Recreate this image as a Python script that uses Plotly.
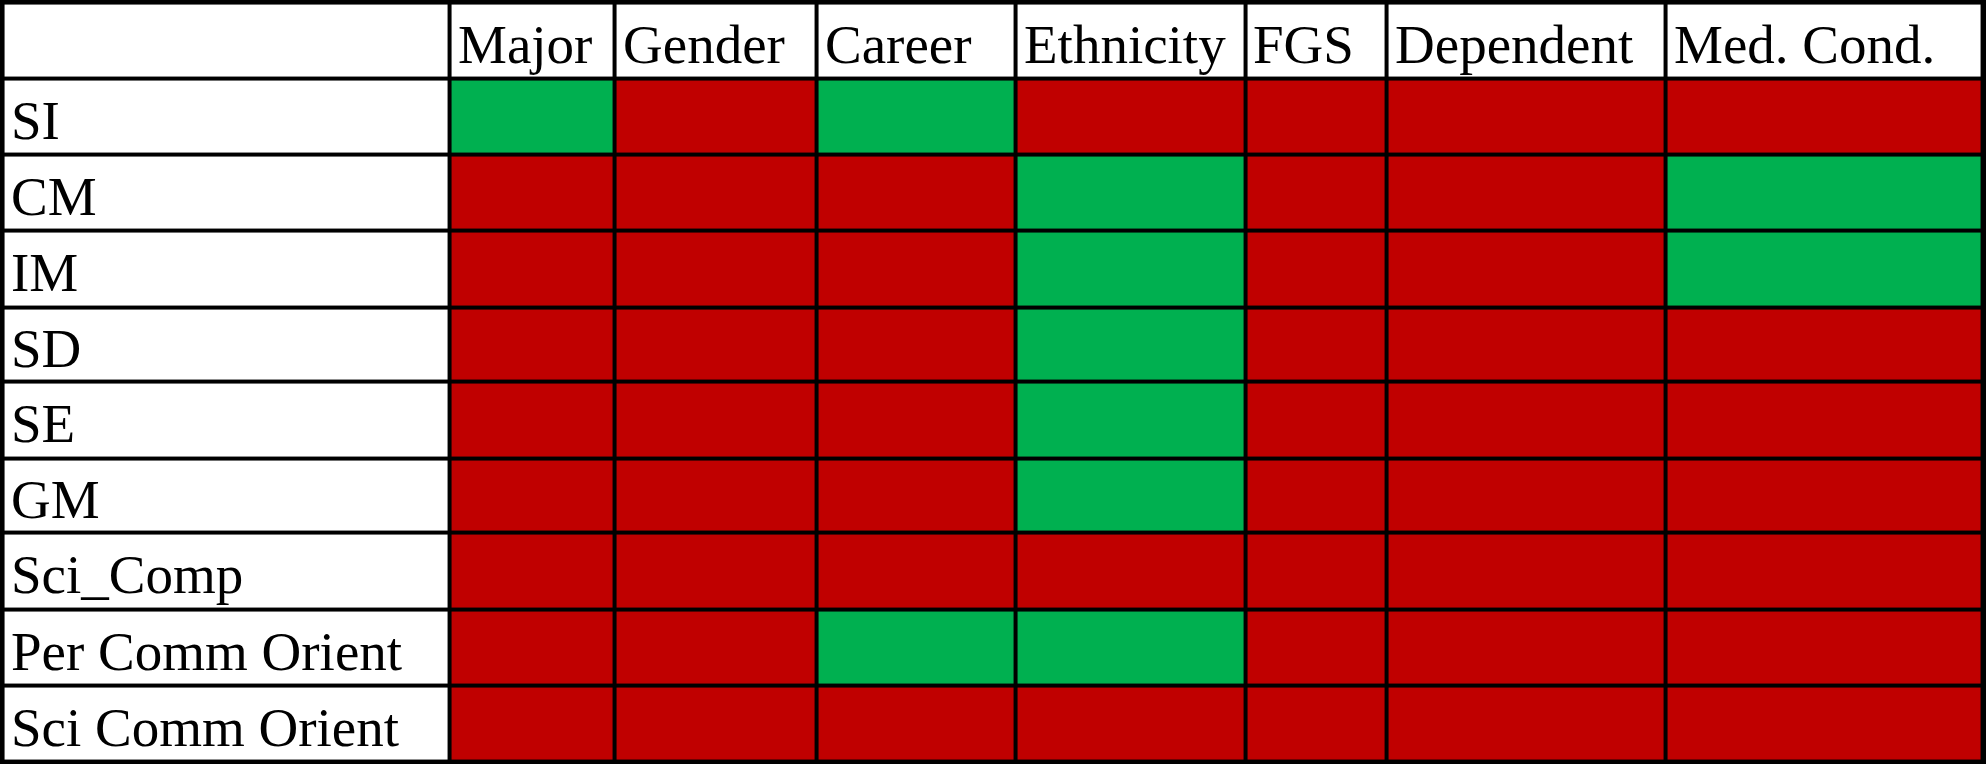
import plotly.graph_objects as go

columns = ["Major", "Gender", "Career", "Ethnicity", "FGS", "Dependent", "Med. Cond."]
rows = ["SI", "CM", "IM", "SD", "SE", "GM", "Sci_Comp", "Per Comm Orient", "Sci Comm Orient"]
# 1 = significant (green), 0 = not significant (red)
sig = [
    [1, 0, 1, 0, 0, 0, 0],
    [0, 0, 0, 1, 0, 0, 1],
    [0, 0, 0, 1, 0, 0, 1],
    [0, 0, 0, 1, 0, 0, 0],
    [0, 0, 0, 1, 0, 0, 0],
    [0, 0, 0, 1, 0, 0, 0],
    [0, 0, 0, 0, 0, 0, 0],
    [0, 0, 1, 1, 0, 0, 0],
    [0, 0, 0, 0, 0, 0, 0],
]
col_edges = [2, 355, 485, 645, 802, 983, 1095, 1315, 1565]
row_edges = [2, 62, 122, 182, 242, 301, 361, 420, 480, 540, 600]

# z: 0 white (labels), 1 red, 2 green
z = [[0] * (len(columns) + 1)]
for r in sig:
    z.append([0] + [2 if v else 1 for v in r])

fig = go.Figure(go.Heatmap(
    x=col_edges, y=row_edges, z=z, zmin=0, zmax=2,
    colorscale=[[0, "#FFFFFF"], [0.33, "#FFFFFF"], [0.34, "#C00000"], [0.66, "#C00000"], [0.67, "#00B050"], [1, "#00B050"]],
    showscale=False, xgap=4, ygap=4, hoverinfo="skip"))

font = dict(family="Liberation Serif", size=55, color="black")
ann = []
for i, c in enumerate(columns):
    ann.append(dict(x=col_edges[i + 1] + 5, y=(row_edges[0] + row_edges[1]) / 2 + 3, text=c,
                    xanchor="left", yanchor="middle", showarrow=False, font=font))
for j, r in enumerate(rows):
    ann.append(dict(x=col_edges[0] + 5, y=(row_edges[j + 1] + row_edges[j + 2]) / 2 + 3, text=r,
                    xanchor="left", yanchor="middle", showarrow=False, font=font))

fig.update_layout(
    width=1986, height=764, margin=dict(l=0, r=0, t=0, b=0),
    plot_bgcolor="black", paper_bgcolor="white", annotations=ann,
    xaxis=dict(range=[0, 1568], visible=False, fixedrange=True),
    yaxis=dict(range=[602, 0], visible=False, fixedrange=True),
)
fig.write_html("out.html", config={"displayModeBar": False},
               post_script="document.body.style.margin='0';document.body.style.overflow='hidden';")
